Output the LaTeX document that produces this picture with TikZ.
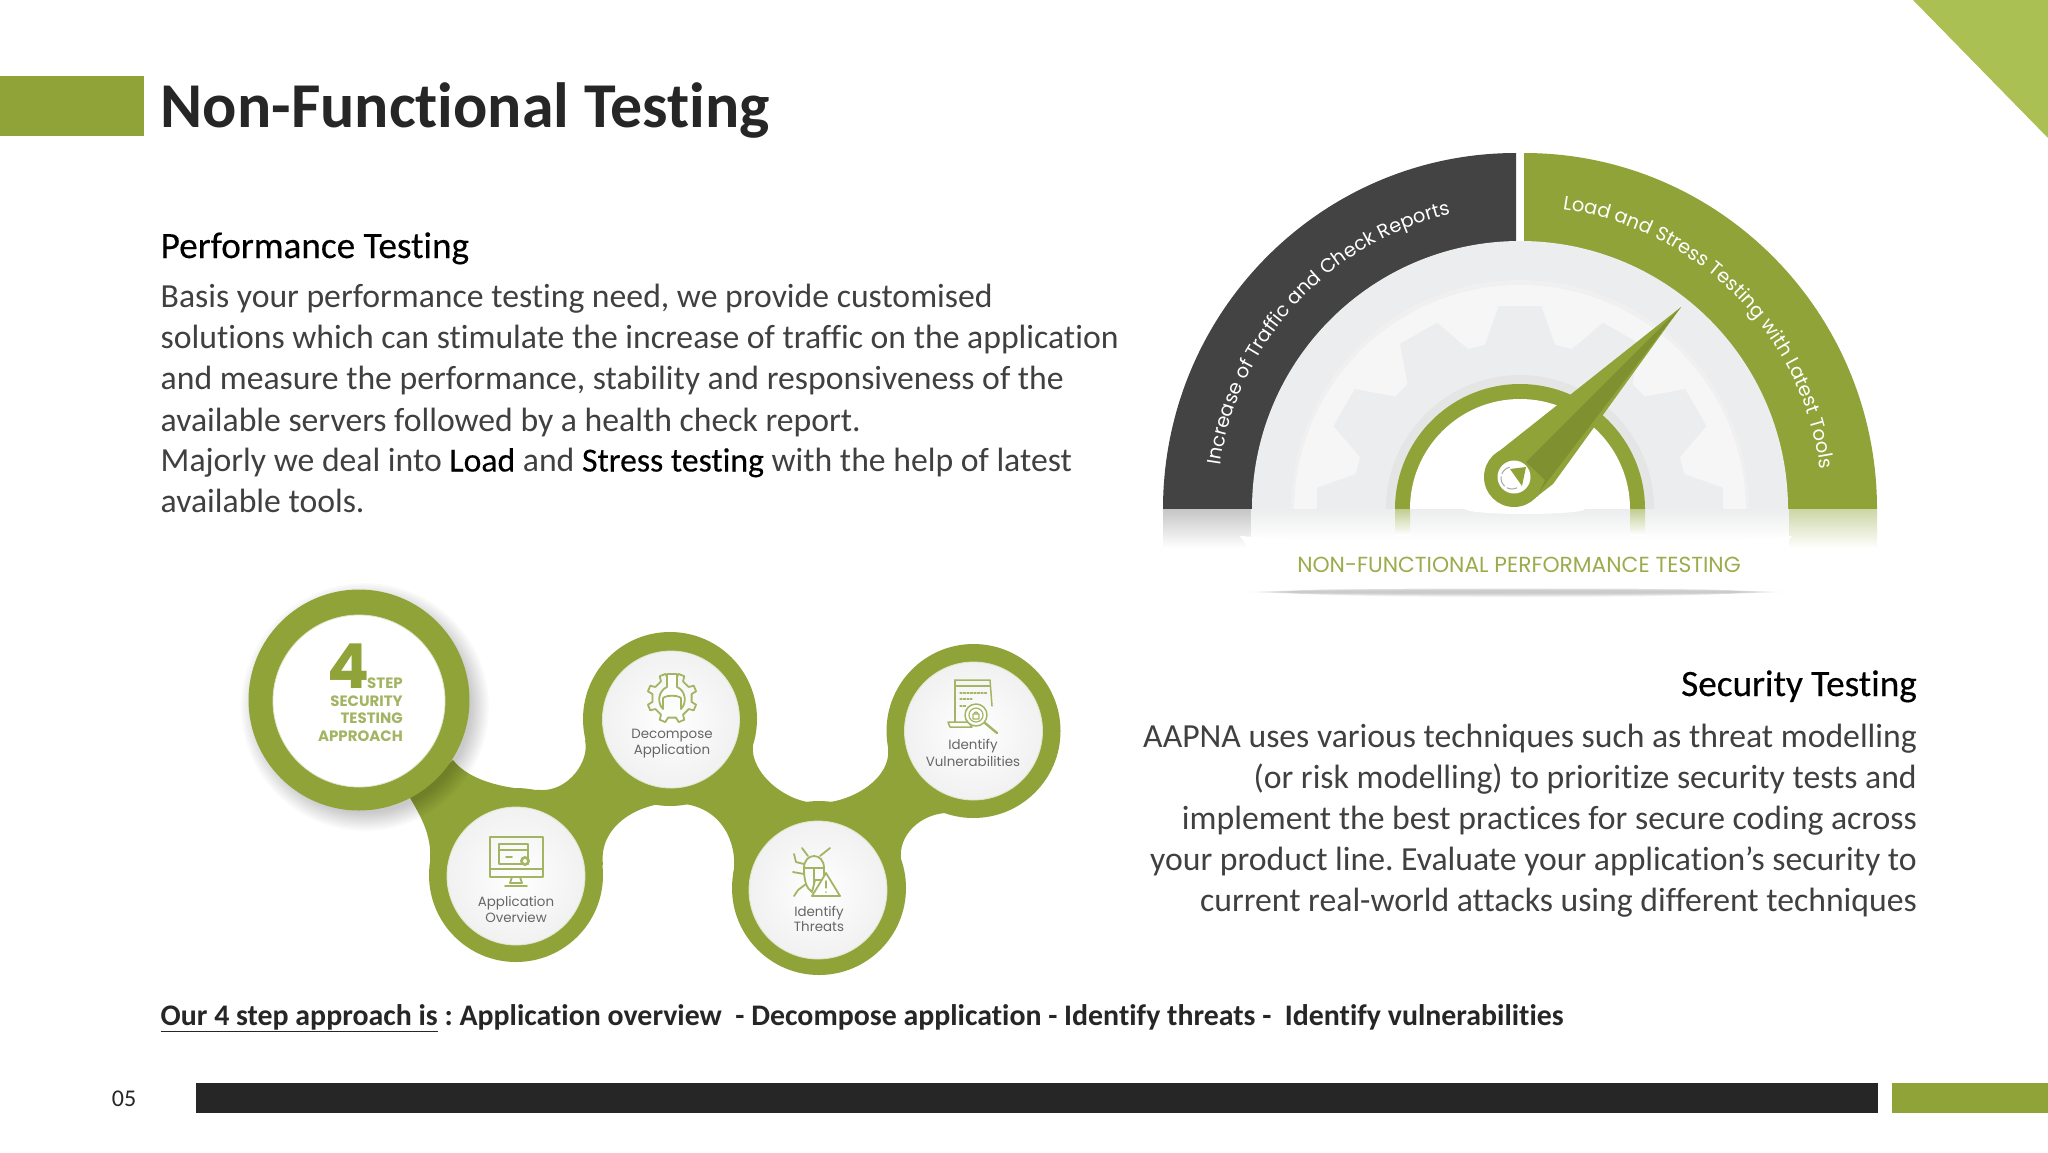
\documentclass[tikz,border=0pt]{standalone}
\usepackage{fontspec}
\setmainfont[Ligatures=CommonOff]{Carlito}
\newfontfamily\medf[Ligatures=CommonOff,FakeBold=0.35]{Carlito}
\newfontfamily\geo{Poppins}
\usetikzlibrary{decorations.text,shadings}
\frenchspacing
\definecolor{olive}{HTML}{8FA338}
\definecolor{oliveD}{HTML}{7F9030}
\definecolor{triG}{HTML}{ABC052}
\definecolor{darkB}{HTML}{262626}
\definecolor{gaugeD}{HTML}{434343}
\definecolor{bodyT}{HTML}{404040}
\definecolor{iconG}{HTML}{A3B463}
\definecolor{capG}{HTML}{666666}
\definecolor{ringL}{HTML}{ECEDEE}
\definecolor{discL}{HTML}{F6F6F7}
\tikzset{
  bodyl/.style={anchor=base west,inner sep=0pt,text=bodyT,font=\fontsize{33.7}{36}\selectfont},
  bodyr/.style={anchor=base east,inner sep=0pt,text=bodyT,font=\fontsize{33.7}{36}\selectfont},
  headl/.style={inner sep=0pt,text=black,font=\medf\fontsize{37.2}{40}\selectfont},
  capt/.style={inner sep=0pt,text=capG,font=\geo\fontsize{13.4}{14}\selectfont},
  bigcap/.style={anchor=base east,inner sep=0pt,text=iconG,font=\geo\bfseries\fontsize{15}{16}\selectfont},
  icon/.style={draw=iconG,line width=1.8pt,line join=round,line cap=round},
  innerc/.style={inner color=white,outer color=gray!11,draw=iconG!35,line width=0.8pt}
}
\begin{document}
\begin{tikzpicture}[x=1pt,y=1pt]
\useasboundingbox (0,0) rectangle (2048,-1152);
\fill[white] (0,0) rectangle (2048,-1152);
% frame
\fill[olive] (0,-76) rectangle (144,-136);
\fill[triG] (1913,0) -- (2048,0) -- (2048,-138) -- cycle;
\fill[darkB] (196,-1083) rectangle (1878,-1113);
\fill[olive] (1892,-1083) rectangle (2048,-1113);
\node[anchor=base west,inner sep=0pt,text=darkB,font=\fontsize{63.9}{66}\selectfont\bfseries] (title) at (160.5,-127) {Non-Functional Testing};
\node[anchor=center,inner sep=0pt,text=darkB,font=\fontsize{24}{26}\selectfont] (pg) at (124,-1099) {05};
% left text
\node[headl,anchor=base west] (perf) at (160.5,-258) {Performance Testing};
\node[bodyl] (p1) at (160.5,-307.5) {Basis your performance testing need, we provide customised};
\node[bodyl] (p2) at (160.5,-348.7) {solutions which can stimulate the increase of traffic on the application};
\node[bodyl] (p3) at (160.5,-389.9) {and measure the performance, stability and responsiveness of the};
\node[bodyl] (p4) at (160.5,-431) {available servers followed by a health check report.};
\node[bodyl] (p5) at (160.5,-471.5) {Majorly we deal into {\medf\color{black}Load} and {\medf\color{black}Stress testing} with the help of latest};
\node[bodyl] (p6) at (160.5,-512.6) {available tools.};
% right text
\node[headl,anchor=base east] (sec) at (1917,-696) {Security Testing};
\node[bodyr] (s1) at (1917,-747) {AAPNA uses various techniques such as threat modelling};
\node[bodyr] (s2) at (1917,-788) {(or risk modelling) to prioritize security tests and};
\node[bodyr] (s3) at (1917,-829) {implement the best practices for secure coding across};
\node[bodyr] (s4) at (1917,-870) {your product line. Evaluate your application’s security to};
\node[bodyr] (s5) at (1917,-911) {current real-world attacks using different techniques};
\node[anchor=base west,inner sep=0pt,text=darkB,font=\fontsize{29.85}{32}\selectfont\bfseries] (appr) at (160.5,-1025) {\underline{Our 4 step approach is} : Application overview~ - Decompose application - Identify threats - ~Identify vulnerabilities};

% ---------- gauge
\begin{scope}
\clip (1100,0) rectangle (1950,-509);
\fill[gaugeD] (1516,-509) -- (1163,-509) arc (180:90:353 and 356) -- (1516,-153) -- cycle;
\fill[olive] (1524,-509) -- (1877,-509) arc (0:90:353 and 356) -- (1524,-153) -- cycle;
\fill[ringL] (1520,-509) circle (268);
\fill[gray!12] (1520,-509) circle (229);
\fill[discL] (1520,-511) circle (226);
\fill[ringL] (1520,-509) \foreach \a in {0,30,...,330} { -- ({1520+168*cos(\a-12)},{-509+168*sin(\a-12)}) -- ({1520+204*cos(\a-6)},{-509+204*sin(\a-6)}) -- ({1520+204*cos(\a+6)},{-509+204*sin(\a+6)}) -- ({1520+168*cos(\a+12)},{-509+168*sin(\a+12)}) } -- cycle;
\fill[gray!20] (1520,-509) circle (134);
\fill[olive] (1520,-509) circle (125);
\fill[white] (1520,-509) circle (110);
\end{scope}
% reflections
\shade[top color=gray!45,bottom color=white] (1163,-509) rectangle (1251,-548);
\shade[top color=ringL,bottom color=white] (1251,-509) rectangle (1789,-540);
\shade[top color=olive!45,bottom color=white] (1789,-509) rectangle (1877,-548);
\shade[top color=olive!55,bottom color=white] (1395,-509) rectangle (1410,-535);
\shade[top color=olive!55,bottom color=white] (1630,-509) rectangle (1645,-535);
\fill[white] (1525,-509) ellipse (60 and 5);
% ribbon
\foreach \k in {1,...,6} \fill[black,opacity=0.035] (1515,-592) ellipse ({275-8*\k} and {1+0.7*\k});
\fill[white] (1240,-536) .. controls (1400,-548) and (1650,-548) .. (1792,-536) -- (1770,-562) -- (1788,-590) .. controls (1650,-588) and (1400,-588) .. (1240,-590) -- (1258,-562) -- cycle;
\node[inner sep=0pt,text=olive!90,font=\fontsize{21.8}{26}\selectfont\geo] (gcap) at (1519,-565) {NON-FUNCTIONAL PERFORMANCE TESTING};
% arc labels
\path[postaction={decorate,decoration={text along path,text align=center,text color=white,
  text={|\geo\fontsize{19.4}{20}\selectfont|Increase of Traffic and Check Reports}}}]
  ({1520+303*cos(172)},{-509+303*sin(172)}) arc (172:103:303);
\path[postaction={decorate,decoration={text along path,text align=center,text color=white,
  text={|\geo\fontsize{19.4}{20}\selectfont|Load and Stress Testing with Latest Tools}}}]
  ({1520+303*cos(82)},{-509+303*sin(82)}) arc (82:7.5:303);
% needle
\coordinate (tip) at (1681,-307);
\coordinate (hub) at (1514,-477);
\fill[olive] (hub) circle (30);
\fill[olive] (1493,-456) -- (tip) -- (1535,-498) -- cycle;
\fill[oliveD] (1526,-462) -- (tip) -- (1537,-497) -- (1545,-480) -- cycle;
\fill[olive] (1535,-498) -- (tip) -- (1553,-484) -- cycle;
\fill[white] (hub) circle (16.5);
\fill[olive] (1510,-469) -- (1526,-467) -- (1522,-486) -- cycle;
\foreach \a in {130,200,270} \draw[gray!70,line width=1pt] ({1512+11*cos(\a-28)},{-478+11*sin(\a-28)}) arc (\a-28:\a+28:11);

% ---------- step chain
\fill[olive] (453,-760) .. controls (470,-782) and (510,-790) .. (543,-790) .. controls (568,-790) and (590,-762) .. (585,-740) -- (671,-719) -- (753,-746) .. controls (750,-772) and (785,-803) .. (818,-803) .. controls (852,-803) and (892,-778) .. (888,-748) -- (973,-731) -- (945,-813) .. controls (920,-815) and (898,-835) .. (901,-860) -- (819,-888) -- (733,-875) .. controls (738,-855) and (730,-803) .. (672,-803) .. controls (640,-803) and (598,-825) .. (603,-865) -- (516,-875) -- (430,-860) .. controls (432,-835) and (420,-815) .. (410,-798) -- cycle;
\fill[olive] (516,-875) circle (87);
\fill[olive] (670,-719) circle (87);
\fill[olive] (819,-888) circle (87);
\fill[olive] (973.5,-731) circle (87);
\foreach \k in {1,...,9} \fill[black,opacity=0.022] (365,-707) circle ({104+2.2*\k});
\fill[olive] (359,-700) circle (110.5);
\shade[inner color=white,outer color=white,draw=iconG!35,line width=0.8pt] (359,-701) circle (86);
\shade[innerc] (516,-876) circle (69);
\shade[innerc] (671,-719.5) circle (68.5);
\shade[innerc] (818,-890) circle (69);
\shade[innerc] (973.5,-731) circle (69);
% big circle text
\node[anchor=base west,inner sep=0pt,text=olive,font=\geo\bfseries\fontsize{62}{64}\selectfont] (four) at (327,-688) {4};
\node[bigcap] (b1) at (403,-688) {STEP};
\node[bigcap] (b2) at (403,-706) {SECURITY};
\node[bigcap] (b3) at (403,-723.5) {TESTING};
\node[bigcap] (b4) at (403,-741) {APPROACH};
% captions
\node[capt] (a1) at (516,-903) {Application};
\node[capt] (a2) at (516,-917) {Overview};
\node[capt] (d1) at (672,-736) {Decompose};
\node[capt] (d2) at (672,-751) {Application};
\node[capt] (t1) at (819,-913) {Identify};
\node[capt] (t2) at (819,-927) {Threats};
\node[capt] (v1) at (973,-746) {Identify};
\node[capt] (v2) at (973,-761) {Vulnerabilities};
% monitor icon
\draw[icon] (490,-837) rectangle (543,-877);
\draw[icon] (490,-869) -- (543,-869);
\draw[icon] (499,-844) rectangle (528,-864);
\draw[icon] (499,-850) -- (528,-850);
\draw[icon] (506,-857) -- (512,-857);
\fill[iconG] (525,-861) circle (5);
\fill[white] (525,-861) circle (2);
\draw[icon] (512,-877) -- (510,-883) -- (522,-883) -- (520,-877);
\draw[icon] (505,-886) -- (527,-886);
% gear wrench icon
\draw[icon] ({672+20*cos(11.5)},{-698+20*sin(11.5)}) \foreach \a in {0,45,...,315} { -- ({672+20*cos(\a+22.5-11)},{-698+20*sin(\a+22.5-11)}) -- ({672+25*cos(\a+22.5-7)},{-698+25*sin(\a+22.5-7)}) -- ({672+25*cos(\a+22.5+7)},{-698+25*sin(\a+22.5+7)}) -- ({672+20*cos(\a+22.5+11)},{-698+20*sin(\a+22.5+11)}) } -- cycle;
\draw[icon,fill=white] (667,-674) -- (667,-687) .. controls (658,-691) and (657,-703) .. (663,-709) -- (663,-698) .. controls (666,-695) and (678,-695) .. (681,-698) -- (681,-709) .. controls (687,-703) and (686,-691) .. (677,-687) -- (677,-674) -- cycle;
% bug icon
\draw[icon] (804,-868) .. controls (804,-852) and (824,-852) .. (824,-868) -- (824,-880) -- (815,-880) -- (812,-892) .. controls (806,-888) and (804,-880) .. (804,-868) -- cycle;
\draw[icon] (804,-868) -- (824,-868) (814,-868) -- (814,-884);
\draw[icon] (802,-848) -- (808,-856) (830,-848) -- (820,-856);
\draw[icon] (804,-864) -- (796,-862) -- (794,-854);
\draw[icon] (804,-874) -- (793,-872);
\draw[icon] (806,-884) -- (798,-890) -- (794,-896);
\draw[icon,fill=white] (826,-873) -- (840,-896) -- (812,-896) -- cycle;
\draw[icon,line width=1.4pt] (826,-881) -- (826,-888) (826,-892) -- (826,-892.2);
% browser + magnifier icon
\draw[icon,line width=1.5pt] (955,-680) -- (990,-680) -- (992,-706);
\draw[icon,line width=1.5pt] (955,-680) -- (955,-722);
\draw[icon,line width=1.5pt] (955,-686) -- (990,-686);
\draw[icon,line width=1.5pt] (948,-722) -- (968,-722) -- (972,-727) -- (950,-727) -- cycle;
\draw[icon,line width=1.2pt,dash pattern=on 2pt off 1.5pt] (960,-693) -- (988,-693) (960,-699) -- (972,-699) (960,-706) -- (966,-706);
\draw[icon,fill=white,line width=1.5pt] (976,-715) circle (11);
\draw[icon,line width=1.2pt] (976,-715) circle (7);
\draw[icon,line width=1.2pt] (973,-714) rectangle (979,-719) (974,-714) arc (180:0:2);
\draw[icon,line width=2.4pt] (985,-723) -- (997,-733);
\end{tikzpicture}
\end{document}
